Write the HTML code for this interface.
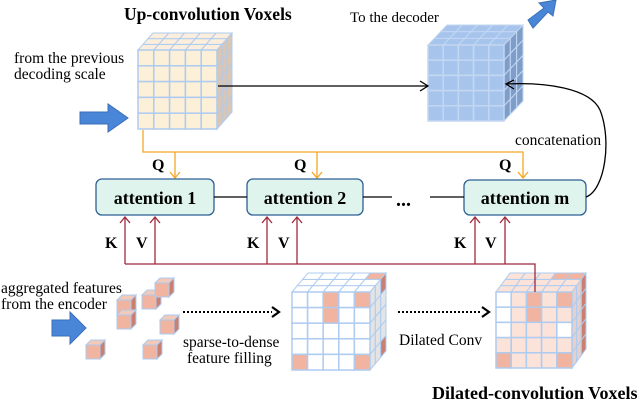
<!DOCTYPE html>
<html><head><meta charset="utf-8"><style>
body{margin:0;background:#fff}
svg{display:block;font-family:"Liberation Serif",serif}
</style></head><body>
<svg id="s" width="640" height="400" viewBox="0 0 640 400" xmlns="http://www.w3.org/2000/svg">
<g id="cubes"></g>
<!-- texts -->
<text x="124" y="20" font-size="17.5" font-weight="bold">Up-convolution Voxels</text>
<text x="350" y="22" font-size="15">To the decoder</text>
<text x="14" y="63" font-size="15.5">from the previous</text>
<text x="14" y="79" font-size="15.5">decoding scale</text>
<text x="515" y="145" font-size="15.5">concatenation</text>
<text x="1" y="293" font-size="15.5">aggregated features</text>
<text x="1" y="309" font-size="15.5">from the encoder</text>
<text x="183" y="347" font-size="15.5">sparse-to-dense</text>
<text x="187" y="363" font-size="15.5">feature filling</text>
<text x="399" y="345" font-size="15.5">Dilated Conv</text>
<text x="432" y="399" font-size="18" font-weight="bold">Dilated-convolution Voxels</text>
<!-- blue arrows -->
<path d="M80,112 H108 V104 L128,118 L108,132 V124 H80 Z" fill="#4a86d8" stroke="#3a6fb8"/>
<path d="M52,320 H70 V312 L86,328 L70,344 V336 H52 Z" fill="#4a86d8" stroke="#3a6fb8"/>
<path d="M528,20 L544,8 L539,3 L556,0 L553,16 L548,12 L533,28 Z" fill="#4a86d8" stroke="#3a6fb8"/>
<!-- orange Q lines -->
<g stroke="#f5a623" stroke-width="1.3" fill="none">
<path d="M143,130 V152 H523 V178"/>
<path d="M175,152 V178"/><path d="M317,152 V178"/>
<path d="M170,172 L175,178 L180,172"/><path d="M312,172 L317,178 L322,172"/><path d="M518,172 L523,178 L528,172"/>
</g>
<g font-size="16" font-weight="bold">
<text x="152" y="170">Q</text><text x="294" y="170">Q</text><text x="499" y="170">Q</text>
<text x="105" y="248">K</text><text x="136" y="248">V</text>
<text x="247" y="248">K</text><text x="278" y="248">V</text>
<text x="454" y="248">K</text><text x="485" y="248">V</text>
</g>
<!-- red KV lines -->
<g stroke="#a0283c" stroke-width="1.3" fill="none">
<path d="M125,264 H535 V292"/>
<path d="M125,264 V217"/><path d="M155,264 V217"/><path d="M267,264 V217"/><path d="M297,264 V217"/><path d="M475,264 V217"/><path d="M505,264 V217"/>
<path d="M120,223 L125,217 L130,223"/><path d="M150,223 L155,217 L160,223"/><path d="M262,223 L267,217 L272,223"/><path d="M292,223 L297,217 L302,223"/><path d="M470,223 L475,217 L480,223"/><path d="M500,223 L505,217 L510,223"/>
</g>
<!-- attention boxes -->
<g stroke="#2e5f94" stroke-width="1.3" fill="#dff4ec">
<rect x="96" y="179" width="118" height="36" rx="6"/>
<rect x="247" y="179" width="116" height="36" rx="6"/>
<rect x="464" y="180" width="122" height="35" rx="6"/>
</g>
<g stroke="#000" stroke-width="1.3" fill="none">
<path d="M214,197 H247"/><path d="M363,197 H392"/><path d="M430,197 H464"/>
<path d="M218,86 H428"/><path d="M420,81 L428,86 L420,91"/>
<path d="M586,197 C605,190 612,140 600,110 C590,88 545,82 506,84"/><path d="M514,80 L506,84 L514,89"/>
</g>
<g font-size="18" font-weight="bold" text-anchor="middle">
<text x="155" y="204">attention 1</text><text x="305" y="204">attention 2</text><text x="525" y="204">attention m</text>
</g>
<text x="396" y="206" font-size="20" font-weight="bold">...</text>
<!-- dotted arrows -->
<g stroke="#000" stroke-width="2" fill="none">
<path d="M183,312 H272" stroke-dasharray="2,2"/><path d="M272,307 L279,312 L272,317" stroke-width="2.2"/>
<path d="M398,312 H482" stroke-dasharray="2,2"/><path d="M482,307 L489,312 L482,317" stroke-width="2.2"/>
</g>
</svg>
<script>
var g=document.getElementById('cubes'),NS='http://www.w3.org/2000/svg';
function el(t,a){var e=document.createElementNS(NS,t);for(var k in a)e.setAttribute(k,a[k]);g.appendChild(e);return e;}
function cube(x,y,s,dx,dy,front,side,top,line,cols){
 var n=5,c=s/n;
 for(var d=0;d<3;d++)for(var i=0;i<n;i++){
  var ox=dx*d/3,oy=dy*d/3,ox2=dx*(d+1)/3,oy2=dy*(d+1)/3;
  var x0=x+i*c;
  el('path',{d:'M'+(x0+ox)+','+(y+oy)+' L'+(x0+c+ox)+','+(y+oy)+' L'+(x0+c+ox2)+','+(y+oy2)+' L'+(x0+ox2)+','+(y+oy2)+'Z',fill:(cols&&cols.top&&cols.top(i,d))||top,stroke:line,'stroke-width':1});
 }
 for(var d=0;d<3;d++)for(var j=0;j<n;j++){
  var ox=dx*d/3,oy=dy*d/3,ox2=dx*(d+1)/3,oy2=dy*(d+1)/3;
  var y0=y+j*c,xr=x+s;
  el('path',{d:'M'+(xr+ox)+','+(y0+oy)+' L'+(xr+ox2)+','+(y0+oy2)+' L'+(xr+ox2)+','+(y0+c+oy2)+' L'+(xr+ox)+','+(y0+c+oy)+'Z',fill:(cols&&cols.side&&cols.side(j,d))||side,stroke:line,'stroke-width':1});
 }
 for(var j=0;j<n;j++)for(var i=0;i<n;i++)
  el('rect',{x:x+i*c,y:y+j*c,width:c,height:c,fill:(cols&&cols.front&&cols.front(i,j))||front,stroke:line,'stroke-width':1.5});
}
var L='#aecbf0';
cube(138,50,79,15,-17,'#fdf0d9','#d9c6b4','#fbeedd',L);
cube(428,45,76,19,-20,'#a7c5ec','#7e9dc8','#a7c5ec','#c3d7f2');
var P='#f0b4a0';
var sp={'2,0':1,'4,0':1,'2,1':1,'0,4':1,'4,4':1};
cube(292,292,78,16,-19,'#fff','#e4e4e4','#fff',L,{front:function(i,j){return sp[i+','+j]?P:null},top:function(i,d){return (i==4&&d==2)?P:null},side:function(j,d){return d==2&&(j==0||j==4)?'#c98070':null}});
var den={'0,0':'#fff','0,1':'#fff','0,2':'#fff','0,3':'#fce3da','4,2':'#fff'};
cube(496,292,76,14,-19,'#fce3da','#e4d0cc','#fce3da',L,{front:function(i,j){if(sp[i+','+j])return P;return den[i+','+j]||null},top:function(i,d){return (i>=3&&d==2)?P:null},side:function(j,d){return d==2?'#c98070':null}});
function sc(x,y){var s=14,d=5;
 el('path',{d:'M'+x+','+y+' l'+d+','+(-d)+' h'+s+' l'+(-d)+','+d+'z',fill:'#f3c9b8',stroke:L});
 el('path',{d:'M'+(x+s)+','+y+' l'+d+','+(-d)+' v'+s+' l'+(-d)+','+d+'z',fill:'#c98070',stroke:L});
 el('rect',{x:x,y:y,width:s,height:s,fill:P,stroke:L});}
[[117,300],[117,315],[142,295],[155,283],[160,320],[86,345],[143,345]].forEach(function(p){sc(p[0],p[1]);});
document.getElementById('s').insertBefore(g,document.getElementById('s').children[1]);
</script>
</body></html>
